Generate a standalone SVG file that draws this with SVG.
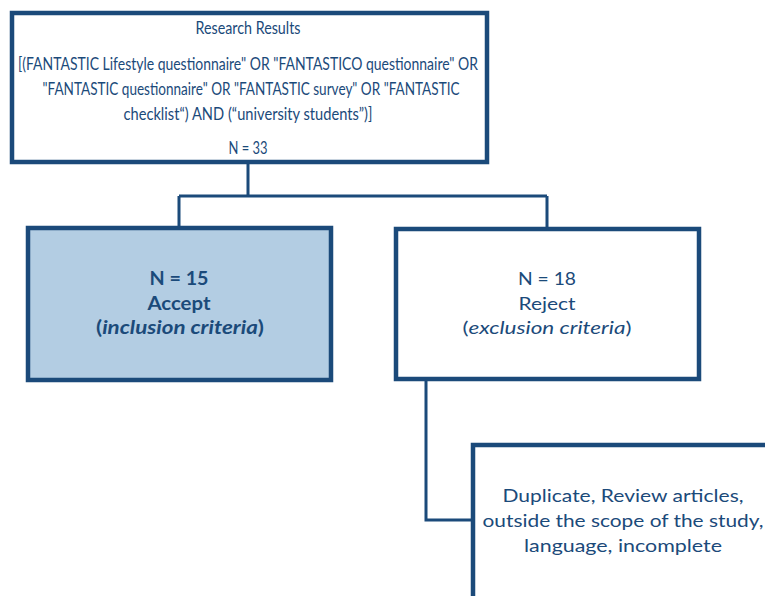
<svg xmlns="http://www.w3.org/2000/svg" width="765" height="596" viewBox="0 0 765 596">
<style>
.box{fill:#fff;stroke:#1b4a7a;stroke-width:4.5}
.acc{fill:#b3cde3}
.con{fill:none;stroke:#1b4a7a;stroke-width:3}
text{font-family:Lato,"Open Sans","Liberation Sans",sans-serif;font-size:18px;fill:#1b4a7a;text-anchor:middle}
.t{font-size:17px}
.b{font-weight:bold}
</style>
<rect width="765" height="596" fill="#fff"/>
<g id="connectors">
<path class="con" d="M248 163V196M179 196H547M179 196V227M547 196V228"/>
<path class="con" d="M426 380V520H472"/>
</g>
<g id="research">
<rect class="box" x="12" y="13" width="475" height="149"/>
<text class="t" x="248" y="34" textLength="105" lengthAdjust="spacingAndGlyphs">Research Results</text>
<text class="t" x="248" y="70" textLength="460" lengthAdjust="spacingAndGlyphs">[(FANTASTIC Lifestyle questionnaire" OR "FANTASTICO questionnaire" OR</text>
<text class="t" x="251" y="95" textLength="417" lengthAdjust="spacingAndGlyphs">"FANTASTIC questionnaire" OR "FANTASTIC survey" OR "FANTASTIC</text>
<text class="t" x="248" y="120" textLength="249" lengthAdjust="spacingAndGlyphs">checklist“) AND (“university students”)]</text>
<text class="t" x="248" y="154" textLength="39" lengthAdjust="spacingAndGlyphs">N = 33</text>
</g>
<g id="accept">
<rect class="box acc" x="28" y="228" width="303" height="152"/>
<text class="b" x="179" y="285" textLength="59" lengthAdjust="spacingAndGlyphs">N = 15</text>
<text class="b" x="179" y="310" textLength="63" lengthAdjust="spacingAndGlyphs">Accept</text>
<text class="b" x="180" y="334" textLength="168" lengthAdjust="spacingAndGlyphs">(<tspan font-style="italic">inclusion criteria</tspan>)</text>
</g>
<g id="reject">
<rect class="box" x="396" y="229" width="303" height="150"/>
<text x="547" y="285" textLength="58" lengthAdjust="spacingAndGlyphs">N = 18</text>
<text x="547" y="310" textLength="57" lengthAdjust="spacingAndGlyphs">Reject</text>
<text x="547" y="334" textLength="169" lengthAdjust="spacingAndGlyphs">(<tspan font-style="italic">exclusion criteria</tspan>)</text>
</g>
<g id="reasons">
<rect class="box" x="473" y="445" width="320" height="200"/>
<text x="623" y="502" textLength="241" lengthAdjust="spacingAndGlyphs">Duplicate, Review articles,</text>
<text x="623" y="527" textLength="281" lengthAdjust="spacingAndGlyphs">outside the scope of the study,</text>
<text x="623" y="552" textLength="198" lengthAdjust="spacingAndGlyphs">language, incomplete</text>
</g>
</svg>
